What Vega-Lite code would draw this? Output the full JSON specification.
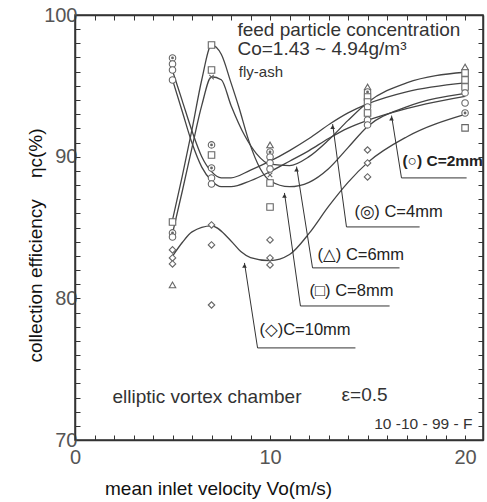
{
  "$schema": "https://vega.github.io/schema/vega-lite/v6.json",
  "width": 408,
  "height": 425,
  "autosize": {"type": "none"},
  "padding": {"left": 75, "top": 15, "right": 4, "bottom": 62},
  "background": "white",
  "config": {
    "view": {"stroke": "#333", "strokeWidth": 1.5},
    "font": "Liberation Sans, Arial, DejaVu Sans, sans-serif"
  },
  "datasets": {
    "curves": [
      {"c": "2mm", "x": 5, "y": 95.43}, {"c": "2mm", "x": 5.5, "y": 93.19}, {"c": "2mm", "x": 6, "y": 90.96}, {"c": "2mm", "x": 6.5, "y": 89.26}, {"c": "2mm", "x": 7, "y": 88.3}, {"c": "2mm", "x": 7.5, "y": 87.88}, {"c": "2mm", "x": 8, "y": 87.88}, {"c": "2mm", "x": 9, "y": 88.3}, {"c": "2mm", "x": 10, "y": 88.94}, {"c": "2mm", "x": 11, "y": 89.68}, {"c": "2mm", "x": 12, "y": 90.43}, {"c": "2mm", "x": 13, "y": 91.28}, {"c": "2mm", "x": 14, "y": 92.02}, {"c": "2mm", "x": 15, "y": 92.56}, {"c": "2mm", "x": 16.2, "y": 93.09}, {"c": "2mm", "x": 18, "y": 93.73}, {"c": "2mm", "x": 20, "y": 94.26},
      {"c": "4mm", "x": 5, "y": 96.07}, {"c": "4mm", "x": 5.5, "y": 93.94}, {"c": "4mm", "x": 6, "y": 91.81}, {"c": "4mm", "x": 6.5, "y": 90.0}, {"c": "4mm", "x": 7, "y": 88.94}, {"c": "4mm", "x": 7.5, "y": 88.51}, {"c": "4mm", "x": 8, "y": 88.51}, {"c": "4mm", "x": 9, "y": 89.05}, {"c": "4mm", "x": 10, "y": 89.68}, {"c": "4mm", "x": 11, "y": 90.43}, {"c": "4mm", "x": 12, "y": 91.28}, {"c": "4mm", "x": 13.1, "y": 92.34}, {"c": "4mm", "x": 14, "y": 93.09}, {"c": "4mm", "x": 15, "y": 93.73}, {"c": "4mm", "x": 17, "y": 94.58}, {"c": "4mm", "x": 20, "y": 95.21},
      {"c": "6mm", "x": 5, "y": 84.58}, {"c": "6mm", "x": 5.5, "y": 87.56}, {"c": "6mm", "x": 6, "y": 90.64}, {"c": "6mm", "x": 6.5, "y": 93.62}, {"c": "6mm", "x": 7, "y": 95.64}, {"c": "6mm", "x": 7.5, "y": 95.43}, {"c": "6mm", "x": 8, "y": 93.62}, {"c": "6mm", "x": 8.7, "y": 91.49}, {"c": "6mm", "x": 9.3, "y": 90.22}, {"c": "6mm", "x": 10, "y": 89.47}, {"c": "6mm", "x": 11, "y": 89.37}, {"c": "6mm", "x": 12, "y": 90.0}, {"c": "6mm", "x": 13, "y": 91.17}, {"c": "6mm", "x": 14, "y": 92.56}, {"c": "6mm", "x": 15, "y": 93.83}, {"c": "6mm", "x": 17, "y": 95.21}, {"c": "6mm", "x": 20, "y": 95.96},
      {"c": "8mm", "x": 5, "y": 85.54}, {"c": "8mm", "x": 5.5, "y": 88.62}, {"c": "8mm", "x": 6, "y": 91.92}, {"c": "8mm", "x": 6.5, "y": 95.43}, {"c": "8mm", "x": 7, "y": 97.87}, {"c": "8mm", "x": 7.5, "y": 97.23}, {"c": "8mm", "x": 8, "y": 95.21}, {"c": "8mm", "x": 8.4, "y": 93.51}, {"c": "8mm", "x": 8.9, "y": 91.17}, {"c": "8mm", "x": 9.5, "y": 89.15}, {"c": "8mm", "x": 10, "y": 88.3}, {"c": "8mm", "x": 11, "y": 87.88}, {"c": "8mm", "x": 12, "y": 88.19}, {"c": "8mm", "x": 13, "y": 89.15}, {"c": "8mm", "x": 14, "y": 90.64}, {"c": "8mm", "x": 15, "y": 92.13}, {"c": "8mm", "x": 17, "y": 93.51}, {"c": "8mm", "x": 20, "y": 94.47},
      {"c": "10mm", "x": 5, "y": 82.98}, {"c": "10mm", "x": 5.5, "y": 83.94}, {"c": "10mm", "x": 6, "y": 84.69}, {"c": "10mm", "x": 7, "y": 85.11}, {"c": "10mm", "x": 8, "y": 84.05}, {"c": "10mm", "x": 8.5, "y": 83.3}, {"c": "10mm", "x": 9, "y": 82.88}, {"c": "10mm", "x": 10, "y": 82.66}, {"c": "10mm", "x": 11, "y": 83.09}, {"c": "10mm", "x": 12, "y": 84.58}, {"c": "10mm", "x": 13, "y": 86.49}, {"c": "10mm", "x": 14, "y": 88.19}, {"c": "10mm", "x": 15, "y": 89.58}, {"c": "10mm", "x": 17, "y": 91.39}, {"c": "10mm", "x": 20, "y": 92.98}
    ],
    "pts": [
      {"x": 5, "y": 96.97, "m": "dbl"}, {"x": 5, "y": 96.54, "m": "circle"}, {"x": 5, "y": 96.12, "m": "circle"}, {"x": 5, "y": 95.41, "m": "circle"}, {"x": 5, "y": 85.39, "m": "square"}, {"x": 5, "y": 84.62, "m": "dbl"}, {"x": 5, "y": 84.33, "m": "circle"}, {"x": 5, "y": 83.42, "m": "diamond"}, {"x": 5, "y": 82.85, "m": "diamond"}, {"x": 5, "y": 82.43, "m": "diamond"}, {"x": 5, "y": 80.95, "m": "triangle"},
      {"x": 7, "y": 97.88, "m": "square"}, {"x": 7, "y": 96.12, "m": "square"}, {"x": 7, "y": 95.62, "m": "cross"}, {"x": 7, "y": 90.83, "m": "dbl"}, {"x": 7, "y": 90.12, "m": "square"}, {"x": 7, "y": 89.2, "m": "dbl"}, {"x": 7, "y": 88.5, "m": "circle"}, {"x": 7, "y": 88.07, "m": "circle"}, {"x": 7, "y": 85.18, "m": "diamond"}, {"x": 7, "y": 83.77, "m": "diamond"}, {"x": 7, "y": 79.53, "m": "diamond"},
      {"x": 10, "y": 90.83, "m": "triangle"}, {"x": 10, "y": 90.33, "m": "dbl"}, {"x": 10, "y": 89.98, "m": "circle"}, {"x": 10, "y": 89.56, "m": "circle"}, {"x": 10, "y": 89.13, "m": "circle"}, {"x": 10, "y": 88.71, "m": "cross"}, {"x": 10, "y": 88.14, "m": "square"}, {"x": 10, "y": 86.45, "m": "square"}, {"x": 10, "y": 84.12, "m": "diamond"}, {"x": 10, "y": 82.85, "m": "diamond"}, {"x": 10, "y": 82.36, "m": "diamond"},
      {"x": 15, "y": 94.92, "m": "triangle"}, {"x": 15, "y": 94.57, "m": "dbl"}, {"x": 15, "y": 94.21, "m": "square"}, {"x": 15, "y": 93.86, "m": "square"}, {"x": 15, "y": 93.51, "m": "circle"}, {"x": 15, "y": 93.08, "m": "square"}, {"x": 15, "y": 92.59, "m": "circle"}, {"x": 15, "y": 92.24, "m": "circle"}, {"x": 15, "y": 90.47, "m": "diamond"}, {"x": 15, "y": 89.56, "m": "diamond"}, {"x": 15, "y": 88.57, "m": "diamond"},
      {"x": 20, "y": 96.33, "m": "triangle"}, {"x": 20, "y": 95.91, "m": "square"}, {"x": 20, "y": 95.41, "m": "square"}, {"x": 20, "y": 94.92, "m": "square"}, {"x": 20, "y": 94.5, "m": "circle"}, {"x": 20, "y": 93.79, "m": "circle"}, {"x": 20, "y": 93.08, "m": "dbl"}, {"x": 20, "y": 92.03, "m": "square"}
    ],
    "leaders": [
      {"c": "2mm", "o": 1, "x": 16.23, "y": 92.9}, {"c": "2mm", "o": 2, "x": 16.74, "y": 88.5}, {"c": "2mm", "o": 3, "x": 20.08, "y": 88.5},
      {"c": "4mm", "o": 1, "x": 13.21, "y": 92.3}, {"c": "4mm", "o": 2, "x": 13.92, "y": 85.04}, {"c": "4mm", "o": 3, "x": 17.67, "y": 85.04},
      {"c": "6mm", "o": 1, "x": 11.36, "y": 89.3}, {"c": "6mm", "o": 2, "x": 12.18, "y": 82.15}, {"c": "6mm", "o": 3, "x": 16.64, "y": 82.15},
      {"c": "8mm", "o": 1, "x": 10.74, "y": 87.44}, {"c": "8mm", "o": 2, "x": 11.56, "y": 79.46}, {"c": "8mm", "o": 3, "x": 16.13, "y": 79.46},
      {"c": "10mm", "o": 1, "x": 8.69, "y": 82.5}, {"c": "10mm", "o": 2, "x": 9.36, "y": 76.5}, {"c": "10mm", "o": 3, "x": 14.38, "y": 76.5}
    ],
    "tips": [
      {"x": 16.23, "y": 92.7}, {"x": 13.21, "y": 92.1}, {"x": 11.36, "y": 89.1}, {"x": 10.74, "y": 87.24}, {"x": 8.69, "y": 82.3}
    ],
    "labels": [
      {"x": 14.33, "y": 86.1, "t": "(◎) C=4mm"},
      {"x": 12.44, "y": 83.06, "t": "(△) C=6mm"},
      {"x": 12.03, "y": 80.52, "t": "(□) C=8mm"},
      {"x": 9.46, "y": 77.77, "t": "(◇)C=10mm"}
    ],
    "notes": [
      {"x": 8.33, "y": 98.94, "t": "feed particle concentration"},
      {"x": 8.33, "y": 97.58, "t": "Co=1.43 ~ 4.94g/m³"},
      {"x": 1.92, "y": 73.04, "t": "elliptic vortex chamber"},
      {"x": 13.67, "y": 73.18, "t": "ε=0.5"}
    ]
  },
  "resolve": {"axis": {"x": "independent", "y": "independent"}},
  "layer": [
    {
      "data": {"name": "curves"},
      "mark": {"type": "line", "interpolate": "monotone", "stroke": "#444", "strokeWidth": 1.3},
      "encoding": {
        "x": {"field": "x", "type": "quantitative", "scale": {"domain": [0, 20.92], "nice": false, "zero": false},
          "axis": {"orient": "bottom", "values": [0,1,2,3,4,5,6,7,8,9,10,11,12,13,14,15,16,17,18,19,20],
            "labelExpr": "datum.value % 10 === 0 ? datum.label : ''", "grid": false, "tickSize": -5, "tickColor": "#333", "domainColor": "#333", "domainWidth": 1.5,
            "labelFontSize": 20, "labelColor": "#555", "labelPadding": 12, "labelFlush": false,
            "title": "mean inlet velocity Vo(m/s)", "titleFontSize": 19, "titleFontWeight": "normal", "titleColor": "#111",
            "titleX": 143, "titleY": 48, "titleBaseline": "middle", "titleAlign": "center"}},
        "y": {"field": "y", "type": "quantitative", "scale": {"domain": [70, 100], "nice": false, "zero": false},
          "axis": {"orient": "left", "values": [70,71,72,73,74,75,76,77,78,79,80,81,82,83,84,85,86,87,88,89,90,91,92,93,94,95,96,97,98,99,100],
            "labelExpr": "datum.value % 10 === 0 ? datum.label : ''", "grid": false, "tickSize": -5, "tickColor": "#333", "domainColor": "#333", "domainWidth": 1.5,
            "labelFontSize": 20, "labelColor": "#555", "labelPadding": 3, "labelFlush": false,
            "title": "collection efficiency\u00a0\u00a0\u00a0\u00a0ηc(%)", "titleFontSize": 19, "titleFontWeight": "normal", "titleColor": "#111",
            "titleX": -40, "titleY": 230, "titleBaseline": "middle", "titleAlign": "center", "titleAngle": -90}},
        "detail": {"field": "c"}
      }
    },
    {
      "data": {"name": "pts"},
      "mark": {"type": "point", "opacity": 0},
      "encoding": {
        "x": {"field": "x", "type": "quantitative",
          "axis": {"orient": "top", "values": [0,1,2,3,4,5,6,7,8,9,10,11,12,13,14,15,16,17,18,19,20], "labels": false, "title": null, "grid": false, "tickSize": -5, "tickColor": "#333", "domainColor": "#333", "domainWidth": 1.5}},
        "y": {"field": "y", "type": "quantitative",
          "axis": {"orient": "right", "values": [70,71,72,73,74,75,76,77,78,79,80,81,82,83,84,85,86,87,88,89,90,91,92,93,94,95,96,97,98,99,100], "labels": false, "title": null, "grid": false, "tickSize": -5, "tickColor": "#333", "domainColor": "#333", "domainWidth": 1.5}}
      }
    },
    {
      "data": {"name": "leaders"},
      "mark": {"type": "line", "stroke": "#333", "strokeWidth": 1},
      "encoding": {
        "x": {"field": "x", "type": "quantitative", "axis": null},
        "y": {"field": "y", "type": "quantitative", "axis": null},
        "detail": {"field": "c"},
        "order": {"field": "o"}
      }
    },
    {
      "data": {"name": "tips"},
      "mark": {"type": "point", "shape": "triangle-up", "filled": true, "color": "#333", "size": 22, "opacity": 1},
      "encoding": {
        "x": {"field": "x", "type": "quantitative", "axis": null},
        "y": {"field": "y", "type": "quantitative", "axis": null}
      }
    },
    {
      "data": {"name": "pts"},
      "mark": {"type": "point", "fill": "white", "stroke": "#666", "strokeWidth": 1.1, "opacity": 1, "fillOpacity": 1, "size": 42},
      "encoding": {
        "x": {"field": "x", "type": "quantitative", "axis": null},
        "y": {"field": "y", "type": "quantitative", "axis": null},
        "shape": {"field": "m", "type": "nominal", "legend": null,
          "scale": {"domain": ["circle", "dbl", "square", "triangle", "diamond", "cross"],
            "range": ["circle", "circle", "square", "triangle-up", "diamond", "M-0.7,-0.7L0.7,0.7M-0.7,0.7L0.7,-0.7"]}}
      }
    },
    {
      "data": {"name": "pts"},
      "transform": [{"filter": "datum.m === 'dbl'"}],
      "mark": {"type": "point", "shape": "circle", "filled": true, "color": "#666", "size": 8, "opacity": 1},
      "encoding": {
        "x": {"field": "x", "type": "quantitative", "axis": null},
        "y": {"field": "y", "type": "quantitative", "axis": null}
      }
    },
    {
      "data": {"values": [{"x": 16.79, "y": 89.7, "t": "(○) C=2mm"}]},
      "mark": {"type": "text", "align": "left", "baseline": "middle", "fontSize": 15.5, "fontWeight": "bold", "color": "#222"},
      "encoding": {
        "x": {"field": "x", "type": "quantitative", "axis": null},
        "y": {"field": "y", "type": "quantitative", "axis": null},
        "text": {"field": "t"}
      }
    },
    {
      "data": {"name": "labels"},
      "mark": {"type": "text", "align": "left", "baseline": "middle", "fontSize": 16.5, "color": "#222"},
      "encoding": {
        "x": {"field": "x", "type": "quantitative", "axis": null},
        "y": {"field": "y", "type": "quantitative", "axis": null},
        "text": {"field": "t"}
      }
    },
    {
      "data": {"name": "notes"},
      "mark": {"type": "text", "align": "left", "baseline": "middle", "fontSize": 19, "color": "#333"},
      "encoding": {
        "x": {"field": "x", "type": "quantitative", "axis": null},
        "y": {"field": "y", "type": "quantitative", "axis": null},
        "text": {"field": "t"}
      }
    },
    {
      "data": {"values": [{"x": 8.4, "y": 95.98, "t": "fly-ash"}]},
      "mark": {"type": "text", "align": "left", "baseline": "middle", "fontSize": 15, "color": "#333"},
      "encoding": {
        "x": {"field": "x", "type": "quantitative", "axis": null},
        "y": {"field": "y", "type": "quantitative", "axis": null},
        "text": {"field": "t"}
      }
    },
    {
      "data": {"values": [{"x": 20.38, "y": 71.14, "t": "10 -10 - 99 - F"}]},
      "mark": {"type": "text", "align": "right", "baseline": "middle", "fontSize": 15.5, "color": "#333"},
      "encoding": {
        "x": {"field": "x", "type": "quantitative", "axis": null},
        "y": {"field": "y", "type": "quantitative", "axis": null},
        "text": {"field": "t"}
      }
    }
  ]
}
